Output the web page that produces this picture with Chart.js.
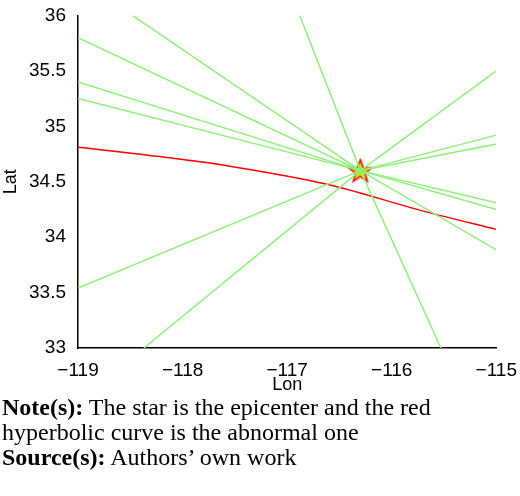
<!DOCTYPE html>
<html><head><meta charset="utf-8">
<script src="https://cdn.jsdelivr.net/npm/chart.js@4/dist/chart.umd.min.js"></script>
<style>
body{margin:0;background:#fff;width:520px;height:496px;overflow:hidden;position:relative}
#c{position:absolute;left:0;top:0}
.note{position:absolute;left:2px;font-family:"Liberation Serif","Times New Roman",serif;font-size:24px;line-height:25px;color:#000;top:395px;white-space:nowrap}
</style></head><body>
<canvas id="c" width="520" height="400"></canvas>
<div class="note"><b>Note(s):</b> The star is the epicenter and the red<br>hyperbolic curve is the abnormal one<br><b>Source(s):</b> Authors’ own work</div>
<script>
const xTicks=[-119,-118,-117,-116,-115];
const yTicks=[33,33.5,34,34.5,35,35.5,36];
const epicenter=[{x:-116.3,y:34.6}];
const greenLines=[
 [{x:-118.48,y:36},{x:-116.3,y:34.6},{x:-115,y:33.885}],
 [{x:-119,y:35.80},{x:-116.3,y:34.6},{x:-115,y:34.84}],
 [{x:-119,y:35.40},{x:-116.3,y:34.6},{x:-115,y:34.25}],
 [{x:-119,y:35.25},{x:-116.3,y:34.6},{x:-115,y:34.31}],
 [{x:-119,y:33.54},{x:-116.3,y:34.6},{x:-115,y:34.92}],
 [{x:-118.37,y:33},{x:-116.3,y:34.6},{x:-115,y:35.5}],
 [{x:-116.88,y:36},{x:-116.3,y:34.6},{x:-115.53,y:33}]
];
const redCurve=[{x:-119,y:34.81},{x:-118.17,y:34.72},{x:-117.55,y:34.64},{x:-116.61,y:34.475},{x:-115.68,y:34.23},{x:-115,y:34.07}];

const star=document.createElement('canvas');star.width=26;star.height=26;
(function(){const g=star.getContext('2d');g.beginPath();
for(let i=0;i<10;i++){const r=i%2?5:12;const a=-Math.PI/2+i*Math.PI/5;g.lineTo(13+r*Math.cos(a),14+r*Math.sin(a));}
g.closePath();g.fillStyle='#c8e000';g.fill();g.strokeStyle='#ff0000';g.lineWidth=1.5;g.stroke();})();

const datasets=greenLines.map(l=>({data:l,borderColor:'#8ef07a',borderWidth:1.5,pointRadius:0,showLine:true,tension:0}));
datasets.push({data:redCurve,borderColor:'#ff0000',borderWidth:1.5,pointRadius:0,showLine:true,cubicInterpolationMode:'monotone'});
datasets.push({data:epicenter,pointStyle:star,pointRadius:13,showLine:false});
const font={family:'"Liberation Sans", Arial, sans-serif',size:19};
new Chart(document.getElementById('c'),{type:'scatter',data:{datasets},
options:{responsive:false,animation:false,events:[],
layout:{padding:{top:9,right:0,left:0,bottom:0}},
plugins:{legend:{display:false},tooltip:{enabled:false}},
scales:{
x:{min:-119,max:-115,afterBuildTicks:a=>{a.ticks=xTicks.map(v=>({value:v}))},
 ticks:{color:'#000',font,maxRotation:0,padding:3,callback:v=>'\u2212'+Math.abs(v)},
 grid:{display:false},border:{color:'#000',width:1.5},
 title:{display:true,text:'Lon',color:'#000',font:{...font,size:18},padding:{top:4}},
 afterFit:a=>{a.height=52}},
y:{min:33,max:36,afterBuildTicks:a=>{a.ticks=yTicks.map(v=>({value:v}))},
 ticks:{color:'#000',font,padding:4,callback:v=>String(v)},
 grid:{display:false},border:{color:'#000',width:1.5},
 title:{display:true,text:'Lat',color:'#000',font:{...font,size:18},padding:0},
 afterFit:a=>{a.width=78}}
}}});
</script></body></html>
